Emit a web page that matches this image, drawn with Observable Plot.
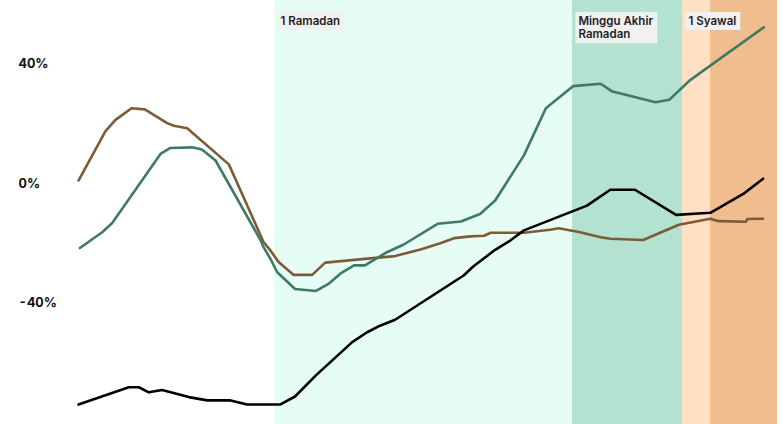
<!DOCTYPE html>
<html><head><meta charset="utf-8">
<script src="https://cdn.jsdelivr.net/npm/d3@7"></script>
<script src="https://cdn.jsdelivr.net/npm/@observablehq/plot@0.6"></script>
<style>
body{margin:0;background:#fff;}
#chart svg{display:block;font-family:Inter, "Noto Sans", sans-serif;}
</style>
</head><body><div id="chart"></div>
<script>
// Periods (x in days from the first data point)
const bandNames = ["Ramadan", "Minggu Akhir Ramadan", "Awal Syawal", "Syawal"];
const bandStart = [14.3, 36.04, 44.07, 46.11];
const bandEnd = [36.04, 44.07, 46.11, 51];
const bandColors = ["#e6fdf5", "#b3e2d1", "#fee0c4", "#f0bd8e"];

const labelText = ["1 Ramadan", "Minggu Akhir\nRamadan", "1 Syawal"];
const labelX = [14.3, 36.04, 44.07];

const yTicks = [-40, 0, 40];

// Brown series
const brownX = [0, 1.97, 2.7, 3.87, 4.84, 6.47, 6.96, 7.93, 10.97, 13.5, 14.0, 14.6, 15.7, 17.05, 18.0, 20.5, 23.1, 24.95, 26.4, 27.4, 28.6, 29.6, 30.06, 32.5, 34.4, 35.05, 36.6, 38.1, 38.8, 41.2, 43.8, 46.1, 46.7, 48.7, 48.8, 49.95];
const brownY = [1.0, 17.5, 21.3, 25.2, 24.8, 20.2, 19.3, 18.5, 6.4, -19.6, -22.4, -26.3, -30.6, -30.6, -26.5, -25.4, -24.3, -22.1, -20.0, -18.3, -17.7, -17.5, -16.5, -16.5, -15.5, -15.0, -16.3, -18.0, -18.5, -18.9, -13.8, -11.8, -12.6, -12.8, -11.9, -11.8];

// Green series
const greenX = [0.1, 1.73, 2.46, 5.98, 6.7, 8.3, 9.0, 10.0, 13.3, 13.5, 14.0, 14.5, 15.8, 17.3, 18.3, 19.1, 20.1, 20.9, 22.5, 23.7, 26.2, 27.9, 29.3, 30.4, 32.5, 34.1, 36.1, 38.1, 38.9, 42.1, 43.1, 44.65, 50.0];
const greenY = [-21.6, -16.3, -13.2, 9.9, 11.9, 12.1, 11.4, 7.7, -19.1, -21.3, -25.2, -29.7, -35.3, -36.0, -33.4, -30.2, -27.4, -27.4, -23.0, -20.5, -13.5, -12.7, -10.2, -5.7, 9.4, 25.2, 32.6, 33.4, 30.9, 27.2, 28.0, 34.7, 52.3];

// Black series
const blackX = [0, 3.67, 4.4, 5.13, 6.1, 8.05, 9.4, 11.1, 12.3, 14.7, 15.8, 17.3, 19.97, 21.06, 22.0, 23.1, 28.1, 28.8, 30.4, 31.5, 32.5, 37.1, 38.8, 40.6, 43.6, 46.1, 48.5, 49.95];
const blackY = [-74.0, -68.2, -68.2, -69.9, -69.1, -71.5, -72.6, -72.6, -74.0, -74.0, -71.3, -64.3, -53.1, -49.8, -47.6, -45.6, -30.8, -27.8, -22.2, -19.1, -15.7, -7.4, -2.1, -2.1, -10.5, -9.8, -3.5, 1.6];

const bands = bandNames.map((n, i) => ({name: n, x1: bandStart[i], x2: bandEnd[i], fill: bandColors[i]}));
const labels = labelText.map((t, i) => ({text: t, x: labelX[i]}));
const toPts = (xs, ys) => xs.map((x, i) => ({x, y: ys[i]}));

const plot = Plot.plot({
  width: 782,
  height: 424,
  marginLeft: 78,
  marginRight: 5,
  marginTop: 0,
  marginBottom: 0,
  x: {domain: [0, 51], axis: null},
  y: {domain: [-80.67, 61.25]},
  marks: [
    Plot.rect(bands, {x1: "x1", x2: "x2", fill: "fill"}),
    Plot.axisY({ticks: yTicks, tickSize: 0, tickPadding: 60, textAnchor: "start", tickFormat: d => d + "%", fontSize: 13, fontWeight: 700, fill: "#111", label: null}),
    Plot.line(toPts(brownX, brownY), {x: "x", y: "y", stroke: "#7c5b37", strokeWidth: 2.6}),
    Plot.line(toPts(greenX, greenY), {x: "x", y: "y", stroke: "#3e7a64", strokeWidth: 2.6}),
    Plot.line(toPts(blackX, blackY), {x: "x", y: "y", stroke: "#000", strokeWidth: 2.6}),
    Plot.text(labels, {x: "x", text: "text", frameAnchor: "top", textAnchor: "start", lineAnchor: "top", dx: 6, dy: 15, fontSize: 11.5, fontWeight: 600, fill: "#222", lineHeight: 1.15})
  ]
});
document.getElementById("chart").appendChild(plot);

// light grey boxes behind the period labels
d3.select(plot).selectAll('g[aria-label="text"] text').each(function() {
  const b = this.getBBox();
  const g = this.parentNode;
  const r = document.createElementNS("http://www.w3.org/2000/svg", "rect");
  const tr = this.getAttribute("transform");
  if (tr) r.setAttribute("transform", tr);
  r.setAttribute("x", b.x - 3);
  r.setAttribute("y", b.y - 2);
  r.setAttribute("width", b.width + 7);
  r.setAttribute("height", b.height + 4);
  r.setAttribute("fill", "#f1f1f1");
  g.insertBefore(r, this);
});
</script>
</body></html>
